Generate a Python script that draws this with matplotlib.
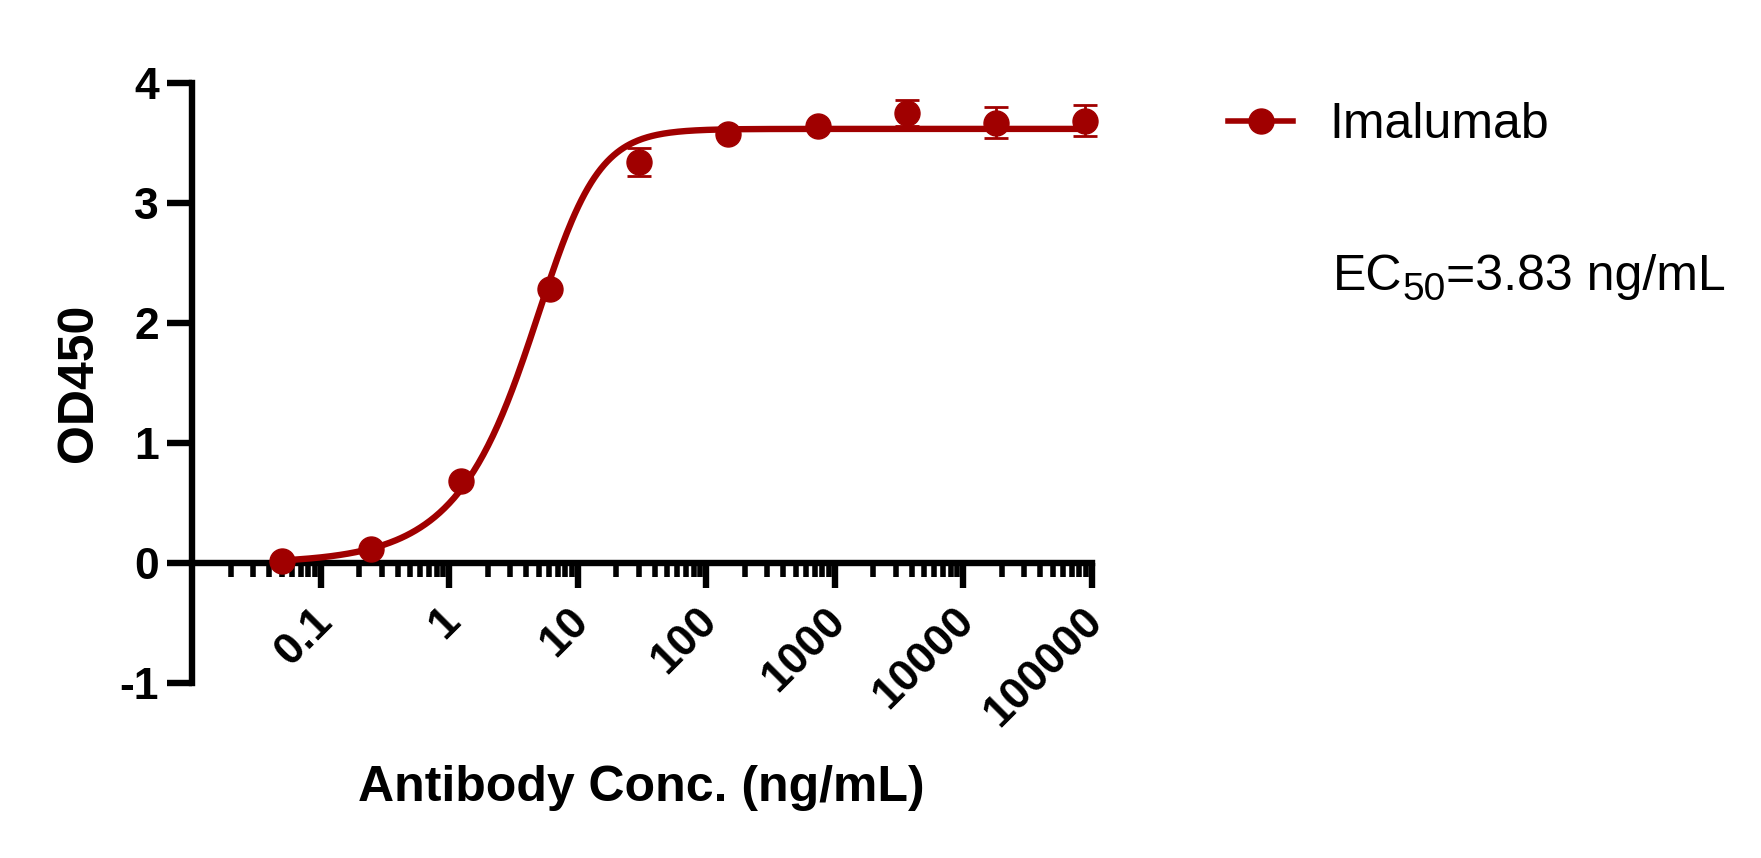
import numpy as np
import matplotlib
matplotlib.use('Agg')
import matplotlib.pyplot as plt
import matplotlib.transforms as mtransforms
from matplotlib.lines import Line2D
from matplotlib.ticker import FixedLocator, NullFormatter

plt.rcParams['font.family'] = ['Liberation Sans', 'DejaVu Sans']

# measured points (ng/mL vs OD450, mean +/- error)
conc = [0.0501, 0.248, 1.229, 6.09, 30.1, 149, 739, 3660, 18130, 89800]
od450 = [0.022, 0.117, 0.688, 2.288, 3.344, 3.578, 3.647, 3.755, 3.671, 3.688]
err = [0.005, 0.005, 0.005, 0.005, 0.115, 0.005, 0.005, 0.107, 0.13, 0.13]

# asymmetric sigmoid fit parameters
fit_bottom = 0.0
fit_top = 3.62
fit_logc = 0.849
fit_hill = 2.02
fit_s = 0.5

xtick_vals = [0.1, 1, 10, 100, 1000, 10000, 100000]
xtick_labels = ['0.1', '1', '10', '100', '1000', '10000', '100000']
ytick_vals = [-1, 0, 1, 2, 3, 4]
ytick_labels = ['-1', '0', '1', '2', '3', '4']

red = '#A00000'

fig = plt.figure(figsize=(17.61, 8.58), dpi=100)
ax = fig.add_axes([192 / 1761, 1 - 683.3 / 858, 899.5 / 1761, 600 / 858])

xfit = np.logspace(np.log10(conc[0]), np.log10(conc[-1]), 500)
yfit = fit_bottom + (fit_top - fit_bottom) / (1 + 10 ** ((fit_logc - np.log10(xfit)) * fit_hill)) ** fit_s
ax.plot(xfit, yfit, color=red, lw=4.6, zorder=3, clip_on=False)
eb = ax.errorbar(conc, od450, yerr=err, fmt='o', color=red, markersize=18,
                 elinewidth=2, capsize=8.5, capthick=2, zorder=4, clip_on=False)
for art in eb.lines[1] + eb.lines[2]:
    art.set_clip_on(False)

ax.set_xscale('log')
ax.set_xlim(0.01, 1e5)
ax.set_ylim(-1, 4)

ax.spines['top'].set_visible(False)
ax.spines['right'].set_visible(False)
ax.spines['bottom'].set_position(('data', 0))
ax.spines['left'].set_linewidth(4.6)
ax.spines['bottom'].set_linewidth(4.6)

ax.xaxis.set_major_locator(FixedLocator(xtick_vals))
ax.xaxis.set_minor_locator(FixedLocator([m * 10.0 ** e for e in range(-2, 5) for m in range(2, 10)]))
ax.xaxis.set_minor_formatter(NullFormatter())
ax.set_xticks(xtick_vals, xtick_labels)
ax.set_yticks(ytick_vals, ytick_labels)

ax.tick_params(axis='both', which='major', direction='out', width=4.6, length=18, labelsize=32)
ax.tick_params(axis='x', which='minor', direction='out', width=4, length=10)
ax.tick_params(axis='y', which='major', pad=6)
ax.tick_params(axis='x', which='major', pad=19)

for lab in ax.get_yticklabels():
    lab.set_fontweight('bold')
shift = mtransforms.ScaledTranslation(0.05, 0, fig.dpi_scale_trans)
for lab in ax.get_xticklabels():
    lab.set_fontweight('bold')
    lab.set_rotation(45)
    lab.set_ha('right')
    lab.set_va('center')
    lab.set_rotation_mode('anchor')
    lab.set_transform(lab.get_transform() + shift)

ax.set_xlabel('Antibody Conc. (ng/mL)', fontsize=36, fontweight='bold')
ax.xaxis.set_label_coords(0.5, -0.136)
ax.set_ylabel('OD450', fontsize=36, fontweight='bold')
ax.yaxis.set_label_coords(-0.100, 0.5)

handle = Line2D([], [], color=red, lw=4, marker='o', markersize=18)
ax.legend([handle], ['Imalumab'], loc='center left',
          bbox_to_anchor=(1228 / 1761, 1 - 125 / 858), bbox_transform=fig.transFigure,
          frameon=False, fontsize=36, handlelength=1.3, handletextpad=0.72,
          borderpad=0, borderaxespad=0)

# EC50 note with a larger subscript than mathtext gives
t1 = fig.text(1333 / 1761, 1 - 290 / 858, 'EC', fontsize=36, ha='left', va='baseline')
t2 = ax.annotate('50', xy=(1, 0), xycoords=t1, fontsize=28, ha='left', va='baseline')
ax.annotate('=3.83 ng/mL', xy=(1, 0), xycoords=(t2, t1), fontsize=36, ha='left', va='bottom')

fig.savefig('out.png', dpi=100)
